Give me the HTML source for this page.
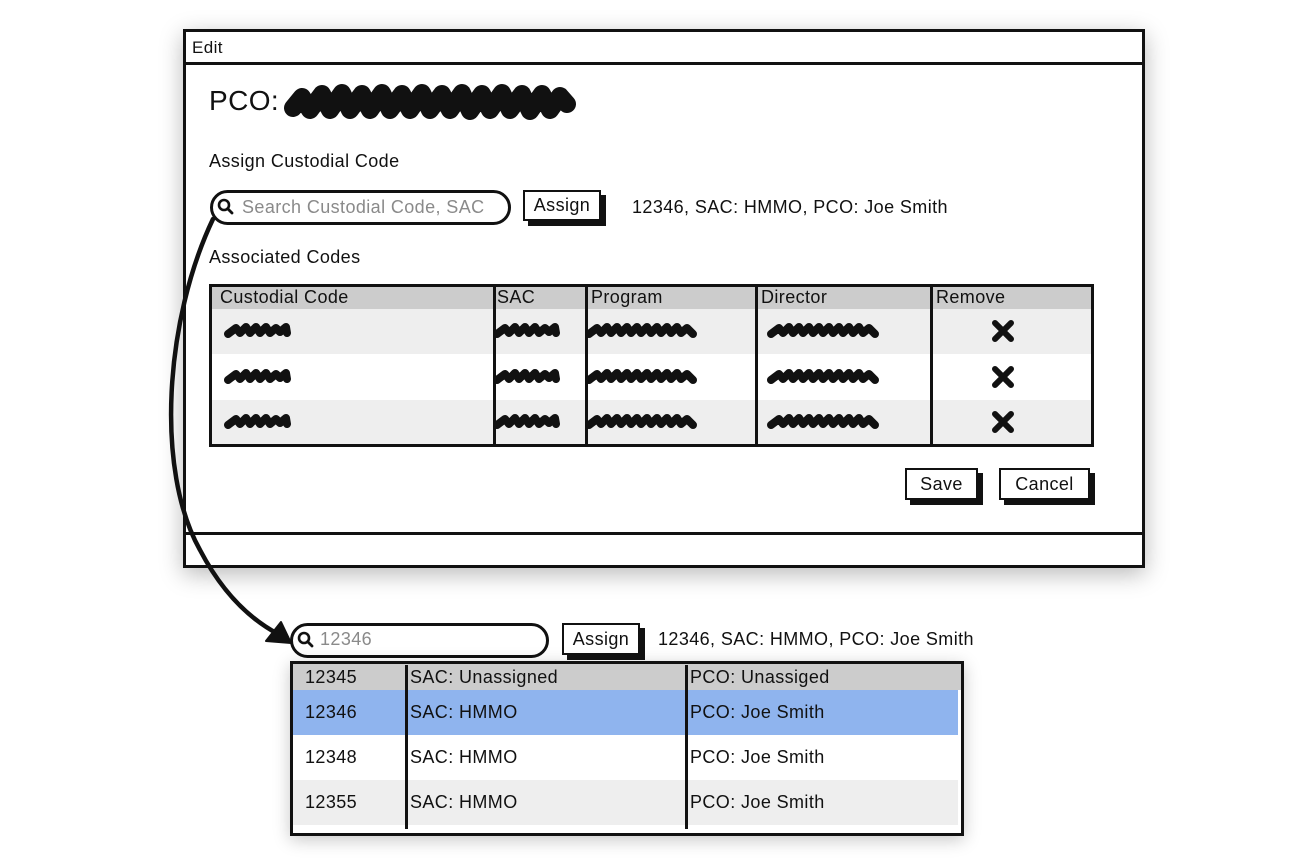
<!DOCTYPE html>
<html><head><meta charset="utf-8"><style>
*{box-sizing:border-box;margin:0;padding:0}
body{width:1300px;height:867px;background:#fff;position:relative;overflow:hidden;font-family:"Liberation Sans",sans-serif;color:#111;letter-spacing:0.4px}
.a{position:absolute}
.t{position:absolute;white-space:nowrap;font-size:18px;line-height:20px}
.btn{position:absolute;border:2.5px solid #111;background:#fff;box-shadow:5px 5px 0 #111;font-size:18px;display:flex;align-items:center;justify-content:center}
.pill{position:absolute;border:3px solid #111;border-radius:18px;background:#fff}
.vl{position:absolute;width:2.5px;background:#111}
</style></head><body>

<!-- main window -->
<div class="a" style="left:183px;top:29px;width:962px;height:539px;border:3px solid #111;background:#fff;box-shadow:0 6px 22px rgba(0,0,0,0.28)"></div>
<div class="a" style="left:183px;top:62px;width:962px;height:3px;background:#111"></div>
<div class="a" style="left:183px;top:532px;width:962px;height:3px;background:#111"></div>
<div class="t" style="left:192px;top:38px;font-size:17px">Edit</div>
<div class="t" style="left:209px;top:86px;font-size:28px;line-height:30px">PCO:</div>
<div class="t" style="left:209px;top:151px">Assign Custodial Code</div>

<div class="pill" style="left:210px;top:190px;width:301px;height:35px"></div>
<div class="t" style="left:242px;top:197px;color:#8a8a8a">Search Custodial Code, SAC</div>
<div class="btn" style="left:523px;top:190px;width:78px;height:31px">Assign</div>
<div class="t" style="left:632px;top:197px">12346, SAC: HMMO, PCO: Joe Smith</div>

<div class="t" style="left:209px;top:247px">Associated Codes</div>

<!-- table -->
<div class="a" style="left:209px;top:284px;width:885px;height:163px;border:3px solid #111;background:#fff"></div>
<div class="a" style="left:212px;top:287px;width:879px;height:22px;background:#cccccc"></div>
<div class="a" style="left:212px;top:309px;width:879px;height:45px;background:#eeeeee"></div>
<div class="a" style="left:212px;top:400px;width:879px;height:44px;background:#eeeeee"></div>
<div class="vl" style="left:493px;top:284px;height:163px"></div>
<div class="vl" style="left:585px;top:284px;height:163px"></div>
<div class="vl" style="left:755px;top:284px;height:163px"></div>
<div class="vl" style="left:930px;top:284px;height:163px"></div>
<div class="t" style="left:220px;top:287px">Custodial Code</div>
<div class="t" style="left:497px;top:287px">SAC</div>
<div class="t" style="left:591px;top:287px">Program</div>
<div class="t" style="left:761px;top:287px">Director</div>
<div class="t" style="left:936px;top:287px">Remove</div>

<div class="btn" style="left:905px;top:468px;width:73px;height:32px">Save</div>
<div class="btn" style="left:999px;top:468px;width:91px;height:32px">Cancel</div>

<!-- bottom search -->
<div class="pill" style="left:290px;top:623px;width:259px;height:35px"></div>
<div class="t" style="left:320px;top:629px;color:#8a8a8a">12346</div>
<div class="btn" style="left:562px;top:623px;width:78px;height:32px">Assign</div>
<div class="t" style="left:658px;top:629px">12346, SAC: HMMO, PCO: Joe Smith</div>

<!-- dropdown -->
<div class="a" style="left:290px;top:661px;width:674px;height:175px;border:3px solid #111;background:#fff;box-shadow:0 4px 16px rgba(0,0,0,0.22)"></div>
<div class="a" style="left:293px;top:664px;width:668px;height:26px;background:#cccccc"></div>
<div class="a" style="left:293px;top:690px;width:665px;height:45px;background:#8fb4ee"></div>
<div class="a" style="left:293px;top:780px;width:665px;height:45px;background:#eeeeee"></div>
<div class="vl" style="left:405px;top:665px;height:164px"></div>
<div class="vl" style="left:685px;top:665px;height:164px"></div>
<div class="t" style="left:305px;top:667px">12345</div>
<div class="t" style="left:410px;top:667px">SAC: Unassigned</div>
<div class="t" style="left:690px;top:667px">PCO: Unassiged</div>
<div class="t" style="left:305px;top:702px">12346</div>
<div class="t" style="left:410px;top:702px">SAC: HMMO</div>
<div class="t" style="left:690px;top:702px">PCO: Joe Smith</div>
<div class="t" style="left:305px;top:747px">12348</div>
<div class="t" style="left:410px;top:747px">SAC: HMMO</div>
<div class="t" style="left:690px;top:747px">PCO: Joe Smith</div>
<div class="t" style="left:305px;top:792px">12355</div>
<div class="t" style="left:410px;top:792px">SAC: HMMO</div>
<div class="t" style="left:690px;top:792px">PCO: Joe Smith</div>

<svg class="a" style="left:0;top:0" width="1300" height="867" viewBox="0 0 1300 867">
<defs>
<path id="ss" d="M4,12 L12,6 L16,11 L22,5 L26,11 L32,5 L36,11 L42,5 L46,11 L52,6 L56,10 L62,5 L63,11" fill="none" stroke="#111" stroke-width="8" stroke-linejoin="round" stroke-linecap="round"/>
<path id="sm" d="M4,12 L12,6 L16,11 L22,5 L26,11 L32,5 L36,11 L42,5 L46,11 L52,5 L56,11 L62,5 L66,11 L72,5 L76,11 L82,5 L86,11 L92,5 L96,11 L102,6 L106,10 L108,12" fill="none" stroke="#111" stroke-width="8" stroke-linejoin="round" stroke-linecap="round"/>
<path id="xx" d="M-8,-8 L8,8 M8,-8 L-8,8" fill="none" stroke="#111" stroke-width="6" stroke-linecap="round"/>
</defs>
<!-- PCO scribble -->
<path d="M293,108 L302,97 L310,110 L322,94 L330,110 L342,93 L350,110 L362,94 L370,110 L382,93 L390,110 L402,94 L410,110 L422,93 L430,110 L442,94 L450,110 L462,93 L470,111 L482,94 L490,110 L502,93 L510,110 L522,94 L530,111 L542,94 L550,110 L560,96 L567,104" fill="none" stroke="#111" stroke-width="18" stroke-linejoin="round" stroke-linecap="round"/>
<!-- table scribbles -->
<use href="#ss" x="224" y="322"/><use href="#ss" x="493" y="322"/><use href="#sm" x="585" y="322"/><use href="#sm" x="767" y="322"/>
<use href="#ss" x="224" y="368"/><use href="#ss" x="493" y="368"/><use href="#sm" x="585" y="368"/><use href="#sm" x="767" y="368"/>
<use href="#ss" x="224" y="413"/><use href="#ss" x="493" y="413"/><use href="#sm" x="585" y="413"/><use href="#sm" x="767" y="413"/>
<use href="#xx" x="1003" y="331"/><use href="#xx" x="1003" y="377"/><use href="#xx" x="1003" y="422"/>
<!-- magnifiers -->
<circle cx="224" cy="205" r="5" fill="none" stroke="#111" stroke-width="2.6"/>
<line x1="228" y1="209" x2="232" y2="213" stroke="#111" stroke-width="2.8" stroke-linecap="round"/>
<circle cx="304" cy="638" r="5" fill="none" stroke="#111" stroke-width="2.6"/>
<line x1="308" y1="642" x2="312" y2="646" stroke="#111" stroke-width="2.8" stroke-linecap="round"/>
<!-- connector -->
<path d="M213,219 C165,320 155,470 200,550 C222,592 248,618 278,634" fill="none" stroke="#111" stroke-width="4.5" stroke-linecap="round"/>
<path d="M291,643 L266,641 L281,622 Z" fill="#111" stroke="#111" stroke-width="2" stroke-linejoin="round"/>
</svg>
</body></html>
